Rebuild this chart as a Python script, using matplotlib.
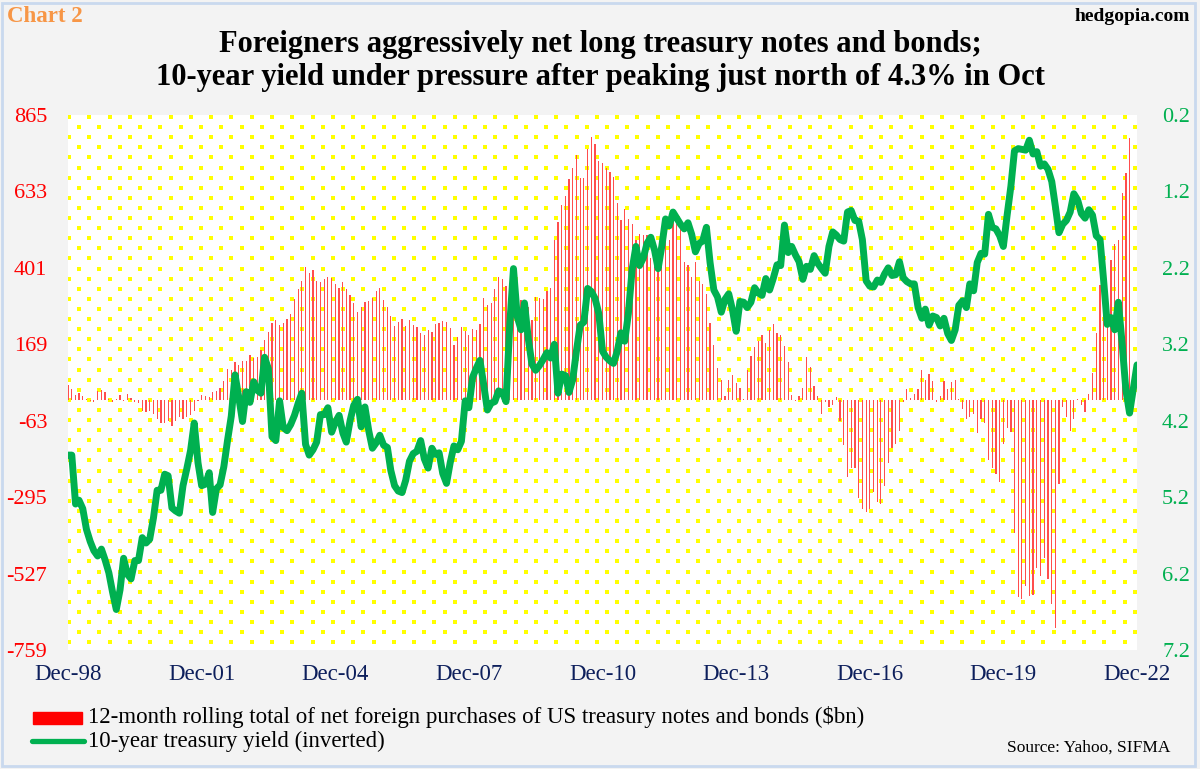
import matplotlib.pyplot as plt
import numpy as np
import pandas as pd
from matplotlib.patches import Rectangle
from matplotlib.lines import Line2D

plt.rcParams["font.family"] = ["Liberation Serif", "DejaVu Serif"]
plt.rcParams["axes.unicode_minus"] = False

# 12-month rolling total of net foreign purchases ($bn), monthly Dec-98 .. Oct-22
net_purchases = [
    45, 32, 16, 21, 11, 2, -2, -5, 27, 30,
    23, 2, -5, 2, 16, -2, 19, 5, -5, -8,
    -32, -37, -34, -43, -59, -69, -71, -64, -78, -64,
    -53, -59, -53, -45, -32, -2, 16, 11, 9, 23,
    27, 37, 59, 94, 91, 115, 107, 117, 119, 136,
    128, 130, 151, 181, 205, 234, 243, 229, 234, 247,
    261, 307, 336, 362, 403, 386, 394, 360, 357, 368,
    373, 370, 352, 341,
    357, 336, 320, 293, 266, 282, 296, 300, 311, 330,
    339, 304, 281, 256, 224, 237, 245, 226, 243, 229,
    222, 202, 197, 211, 207, 232, 234, 241, 236, 218,
    168, 190, 222, 208, 197, 215, 211, 232, 309, 288,
    293, 336, 373, 368, 346, 298, 288, 298, 304, 300,
    282, 243, 314, 311, 307, 332, 341, 485, 541, 591,
    618, 671, 705, 744, 674, 674, 762, 797, 778, 725,
    719, 703, 693, 677, 599, 546, 581, 549, 535, 485,
    503, 501, 501, 432, 437, 448, 426, 490, 486, 543,
    533, 538, 418, 410, 373, 418, 360, 352, 322, 234,
    168, 96, 62, 11, 62, 77, 53, 37, 2, 91,
    133, 160, 179, 197, 173, 213, 232, 202, 197, 164,
    115, 16, -2, 11, 37, 130, 101, 43, 11, -43,
    -5, -21, -16, 10, -64, -136, -234, -208, -208, -298,
    -330, -341,
    -330, -279, -309, -315, -261, -192, -147, -133, -94, -5,
    32, 5, 19, 34, 91, 62, 80, 59, -5, 11,
    59, 32, 55, 62, 2, -27, -59, -53, -43, -101,
    -59, -69, -181, -208, -224, -250, -133, -85, -96, -405,
    -599, -605, -565, -595, -591, -511, -533, -480, -543, -618,
    -691, -256, -21, -53, -94, -59, 2, -16, -37,
    17, 81, 202, 349, 278, 300, 425, 473, 486, 628, 688, 795,
]

# 10-year treasury yield (%), month-end, Dec-98 .. Dec-22
ten_year_yield = [
    4.65,
    4.65, 5.29, 5.24, 5.35, 5.62, 5.78, 5.90, 5.97, 5.88, 6.02, 6.19, 6.44,
    6.67, 6.41, 6.00, 6.21, 6.27, 6.03, 6.03, 5.73, 5.80, 5.75, 5.47, 5.11,
    5.11, 4.90, 4.92, 5.34, 5.38, 5.41, 5.05, 4.83, 4.59, 4.23, 4.75, 5.05,
    5.03, 4.88, 5.40, 5.09, 5.04, 4.80, 4.46, 4.14, 3.60, 3.89, 4.21, 3.82,
    3.96, 3.69, 3.80, 3.84, 3.37, 3.52, 4.41, 4.46, 3.94, 4.29, 4.33, 4.25,
    4.13, 3.97, 3.84, 4.51, 4.65, 4.58, 4.48, 4.12, 4.12, 4.03, 4.35, 4.22,
    4.13, 4.36, 4.48, 4.20, 4.00, 3.92, 4.28, 4.02, 4.33, 4.56, 4.49, 4.39,
    4.52, 4.55, 4.85, 5.05, 5.12, 5.14, 4.98, 4.73, 4.63, 4.60, 4.46, 4.70,
    4.82, 4.56, 4.64, 4.62, 4.89, 5.02, 4.75, 4.53, 4.58, 4.47, 3.94, 4.03,
    3.63, 3.51, 3.41, 3.73, 4.06, 3.97, 3.95, 3.81, 3.83, 3.95, 2.93, 2.21,
    2.84, 3.01, 2.66, 3.12, 3.46, 3.54, 3.48, 3.40, 3.31, 3.38, 3.20, 3.84,
    3.59, 3.61, 3.83, 3.66, 3.29, 2.95, 2.91, 2.47, 2.51, 2.60, 2.80, 3.29,
    3.37, 3.42, 3.45, 3.29, 3.05, 3.16, 2.80, 2.22, 1.92, 2.17, 2.07, 1.88,
    1.80, 1.97, 2.21, 1.91, 1.56, 1.65, 1.47, 1.55, 1.63, 1.69, 1.61, 1.76,
    1.99, 1.88, 1.85, 1.67, 2.13, 2.49, 2.58, 2.78, 2.61, 2.54, 2.75, 3.03,
    2.64, 2.65, 2.72, 2.65, 2.46, 2.53, 2.56, 2.34, 2.49, 2.34, 2.16, 2.17,
    1.64, 2.00, 1.92, 2.03, 2.12, 2.35, 2.18, 2.22, 2.04, 2.14, 2.21, 2.27,
    1.92, 1.73, 1.77, 1.83, 1.85, 1.47, 1.45, 1.58, 1.59, 1.83, 2.37, 2.44,
    2.45, 2.36, 2.39, 2.28, 2.20, 2.30, 2.29, 2.12, 2.33, 2.38, 2.41, 2.41,
    2.72, 2.86, 2.74, 2.95, 2.83, 2.85, 2.96, 2.86, 3.06, 3.15, 3.01, 2.69,
    2.63, 2.72, 2.41, 2.50, 2.13, 2.01, 2.02, 1.50, 1.67, 1.69, 1.78, 1.92,
    1.51, 1.13, 0.67, 0.64, 0.65, 0.66, 0.53, 0.71, 0.68, 0.87, 0.84, 0.91,
    1.07, 1.41, 1.74, 1.63, 1.58, 1.47, 1.23, 1.31, 1.49, 1.55, 1.44, 1.51,
    1.78, 1.83, 2.34, 2.94, 2.85, 3.01, 2.65, 3.19, 3.80, 4.10, 3.78, 3.47,
]

left_ticks = [865, 633, 401, 169, -63, -295, -527, -759]
right_ticks = [0.2, 1.2, 2.2, 3.2, 4.2, 5.2, 6.2, 7.2]
x_tick_years = [1998, 2001, 2004, 2007, 2010, 2013, 2016, 2019, 2022]
x_tick_labels = ["Dec-98", "Dec-01", "Dec-04", "Dec-07", "Dec-10",
                 "Dec-13", "Dec-16", "Dec-19", "Dec-22"]

bar_months = pd.date_range("1998-12-01", periods=len(net_purchases), freq="MS")
yield_months = pd.date_range("1998-12-01", periods=len(ten_year_yield), freq="MS")
x_ticks = [pd.Timestamp(f"{y}-12-01") for y in x_tick_years]

W, H = 1200, 769
fig = plt.figure(figsize=(W / 100, H / 100), dpi=100)
fig.patch.set_facecolor("#f3f3f3")
fig.patches.append(Rectangle((0.002, 0.004), 0.994, 0.992, transform=fig.transFigure,
                             fill=False, edgecolor="#c9d9ee", linewidth=2))

ax = fig.add_axes([68 / W, 119 / H, 1069 / W, 535 / H])
ax.set_facecolor("white")

# yellow dotted background
dx, dy = 20.3 / 1069, 10.1 / 535
pts_x, pts_y = [], []
for r in range(53):
    xs = np.arange(1 / 1069 + (r % 2) * dx / 2, 1, dx)
    pts_x.extend(xs)
    pts_y.extend([1 - 2 / 535 - r * dy] * len(xs))
ax.scatter(pts_x, pts_y, s=4.8, marker="s", color="#ffff00", linewidths=0,
           transform=ax.transAxes, zorder=0)

ax.bar(bar_months, net_purchases, width=10, color="#ff4d4d", linewidth=0, zorder=2)
ax.set_ylim(-759, 865)
ax.set_yticks(left_ticks)
ax.set_yticklabels([str(v) for v in left_ticks])
ax.set_xlim(pd.Timestamp("1998-12-01"), pd.Timestamp("2022-12-01"))
ax.set_xticks(x_ticks)
ax.set_xticklabels(x_tick_labels)
ax.tick_params(axis="y", length=0, pad=15, labelcolor="red", labelsize=16)
ax.tick_params(axis="x", length=0, pad=10, labelcolor="#0d1f5c", labelsize=16.5)
for s in ax.spines.values():
    s.set_visible(False)

ax2 = ax.twinx()
ax2.plot(yield_months, ten_year_yield, color="#00b050", linewidth=5,
         solid_joinstyle="round", solid_capstyle="round", zorder=3)
ax2.set_ylim(7.2, 0.2)
ax2.set_yticks(right_ticks)
ax2.set_yticklabels([f"{v:.1f}" for v in right_ticks])
ax2.tick_params(axis="y", length=0, pad=18, labelcolor="#00b050", labelsize=16)
for s in ax2.spines.values():
    s.set_visible(False)

# titles
fig.text(7 / W, 1 - 22 / H, "Chart 2", color="#f79646", fontsize=16.5,
         fontweight="bold", ha="left", va="baseline")
fig.text(1190 / W, 1 - 21 / H, "hedgopia.com", color="black", fontsize=14,
         fontweight="bold", ha="right", va="baseline")
fig.text(0.5, 1 - 52 / H, "Foreigners aggressively net long treasury notes and bonds;",
         fontsize=22, fontweight="bold", ha="center", va="baseline")
fig.text(0.5, 1 - 85 / H, "10-year yield under pressure after peaking just north of 4.3% in Oct",
         fontsize=22, fontweight="bold", ha="center", va="baseline")

# legend
fig.patches.append(Rectangle((33 / W, 1 - 724 / H), 49 / W, 12 / H,
                             transform=fig.transFigure, color="red"))
fig.lines.append(Line2D([32 / W, 84 / W], [1 - 741 / H, 1 - 741 / H],
                        transform=fig.transFigure, color="#00b050", linewidth=3.8,
                        solid_capstyle="round"))
fig.text(88 / W, 1 - 717 / H,
         "12-month rolling total of net foreign purchases of US treasury notes and bonds ($bn)",
         fontsize=16.5, ha="left", va="center")
fig.text(88 / W, 1 - 741 / H, "10-year treasury yield (inverted)",
         fontsize=16.5, ha="left", va="center")
fig.text(1170 / W, 1 - 748 / H, "Source: Yahoo, SIFMA", fontsize=12.5,
         ha="right", va="center")

fig.savefig("out.png", dpi=100, facecolor=fig.get_facecolor())
